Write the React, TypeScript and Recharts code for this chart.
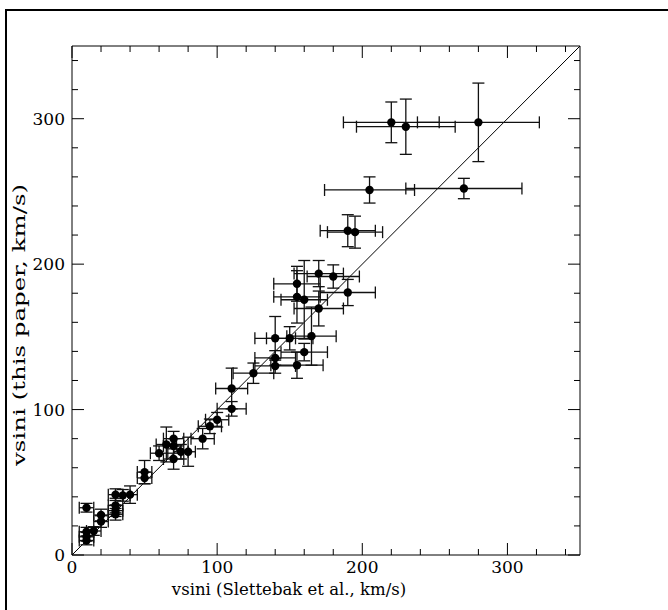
import React from 'react';
import { ScatterChart, Scatter, XAxis, YAxis, ErrorBar, ReferenceLine } from 'recharts';

// Slettebak et al. vsini (x) vs this paper vsini (y), km/s
const xVals = [10, 10, 10, 10, 15, 20, 20, 30, 30, 30, 30, 35, 40, 50, 50, 60, 65, 70, 70, 70, 75, 80, 90, 95, 100, 110, 110, 125, 140, 140, 140, 150, 155, 160, 165, 155, 155, 160, 170, 180, 170, 190, 190, 195, 205, 270, 220, 230, 280];
const yVals = [32.5, 16, 12.5, 10, 16.5, 27.5, 23, 41.5, 34, 30.5, 28, 41, 41.5, 57, 53, 70, 76, 80, 75, 66, 71, 71, 80, 88.5, 93, 100.5, 114.5, 125, 149, 135.5, 130, 149, 130.5, 139.5, 150.5, 186.5, 177.5, 175.5, 193.5, 191.5, 169.5, 180.5, 223, 222, 251, 252, 297.5, 294.5, 297.5];
const xErrs = [5, 5, 5, 5, 5, 5, 5, 5, 5, 5, 5, 5, 5, 5, 5, 6, 7, 7, 7, 7, 5, 5, 8, 8, 8, 10, 11, 14, 14, 14, 14, 16, 18, 16, 17, 16, 16, 16, 17, 18, 17, 19, 19, 19, 31, 40, 33, 34, 42];
const yErrs = [3, 3, 3, 3, 3, 4, 4, 4, 5, 4, 4, 4, 6, 8, 4, 5, 12, 5, 5, 7, 5, 10, 7, 5, 5, 5, 14, 7, 15, 5, 5, 8, 9, 6, 20, 12, 18, 27, 9, 8, 12, 9, 11, 11, 9, 7, 14, 19, 27];

const axisTicks = [0, 20, 40, 60, 80, 100, 120, 140, 160, 180, 200, 220, 240, 260, 280, 300, 320, 340];
const labeledTicks = [0, 100, 200, 300];
const diagonal = [{ x: 0, y: 0 }, { x: 350, y: 350 }];
const xTitle = 'vsini (Slettebak et al., km/s)';
const yTitle = 'vsini (this paper, km/s)';

const data = xVals.map((x, i) => ({ x, y: yVals[i], xErr: xErrs[i], yErr: yErrs[i] }));

const FONT = "'DejaVu Serif', serif";
const FS = 17;
const TFS = 16.5;

const tickFor = (side: string) => (props: any) => {
  const { x, y, payload } = props;
  const v = payload.value;
  const major = labeledTicks.includes(v);
  const len = major ? 12 : 6;
  let line;
  let label = null;
  if (side === 'bottom') {
    line = <line x1={x} x2={x} y1={y} y2={y - len} stroke="#000" strokeWidth={1} />;
    if (major) label = <text x={x} y={y + 18} textAnchor="middle" fontFamily={FONT} fontSize={FS} fill="#000">{v}</text>;
  } else if (side === 'top') {
    line = <line x1={x} x2={x} y1={y} y2={y + len} stroke="#000" strokeWidth={1} />;
  } else if (side === 'left') {
    line = <line x1={x} x2={x + len} y1={y} y2={y} stroke="#000" strokeWidth={1} />;
    if (major) label = <text x={x - 7} y={y + 6} textAnchor="end" fontFamily={FONT} fontSize={FS} fill="#000">{v}</text>;
  } else {
    line = <line x1={x} x2={x - len} y1={y} y2={y} stroke="#000" strokeWidth={1} />;
  }
  return <g>{line}{label}</g>;
};

const YTitle = () => (
  <text x={25} y={325} transform="rotate(-90, 25, 325)" textAnchor="middle" fontFamily={FONT} fontSize={TFS} fill="#000"
    textLength={282} lengthAdjust="spacingAndGlyphs">{yTitle}</text>
);

const Dot = (props: any) => <circle cx={props.cx} cy={props.cy} r={4.2} fill="#000" />;

export default function App() {
  return (
    <div style={{ position: 'absolute', left: 0, top: 0, width: 668, height: 610, overflow: 'hidden', background: '#fff' }}>
      <div style={{ position: 'absolute', left: 5, top: 9, width: 800, height: 800, borderLeft: '2px solid #000', borderTop: '2px solid #000' }} />
      <div style={{ position: 'absolute', left: 0, top: 0 }}>
        <ScatterChart width={668} height={610} margin={{ top: 45, right: 87, bottom: 54, left: 71 }}>
          <XAxis xAxisId="b" dataKey="x" type="number" domain={[0, 350]} ticks={axisTicks} interval={0} height={1}
            orientation="bottom" tickSize={0} tickMargin={0} tick={tickFor('bottom')} axisLine={{ stroke: '#000' }} tickLine={false}
            allowDataOverflow
            label={{ value: xTitle, position: 'bottom', dx: -37, dy: 22, style: { fontFamily: FONT, fontSize: TFS, fill: '#000' } }} />
          <XAxis xAxisId="t" dataKey="x" type="number" domain={[0, 350]} ticks={axisTicks} interval={0} height={1}
            orientation="top" tickSize={0} tickMargin={0} tick={tickFor('top')} axisLine={{ stroke: '#000' }} tickLine={false} allowDataOverflow />
          <YAxis yAxisId="l" dataKey="y" type="number" domain={[0, 350]} ticks={axisTicks} interval={0} width={1}
            orientation="left" tickSize={0} tickMargin={0} tick={tickFor('left')} axisLine={{ stroke: '#000' }} tickLine={false}
            allowDataOverflow label={{ content: YTitle }} />
          <YAxis yAxisId="r" dataKey="y" type="number" domain={[0, 350]} ticks={axisTicks} interval={0} width={1}
            orientation="right" tickSize={0} tickMargin={0} tick={tickFor('right')} axisLine={{ stroke: '#000' }} tickLine={false} allowDataOverflow />
          <ReferenceLine xAxisId="b" yAxisId="l" segment={diagonal} stroke="#000" strokeWidth={1} ifOverflow="visible" />
          <Scatter xAxisId="b" yAxisId="l" data={data} shape={Dot} isAnimationActive={false}>
            <ErrorBar dataKey="xErr" direction="x" width={6} stroke="#111" strokeWidth={1.3} isAnimationActive={false} />
            <ErrorBar dataKey="yErr" direction="y" width={6} stroke="#111" strokeWidth={1.3} isAnimationActive={false} />
          </Scatter>
        </ScatterChart>
      </div>
    </div>
  );
}
